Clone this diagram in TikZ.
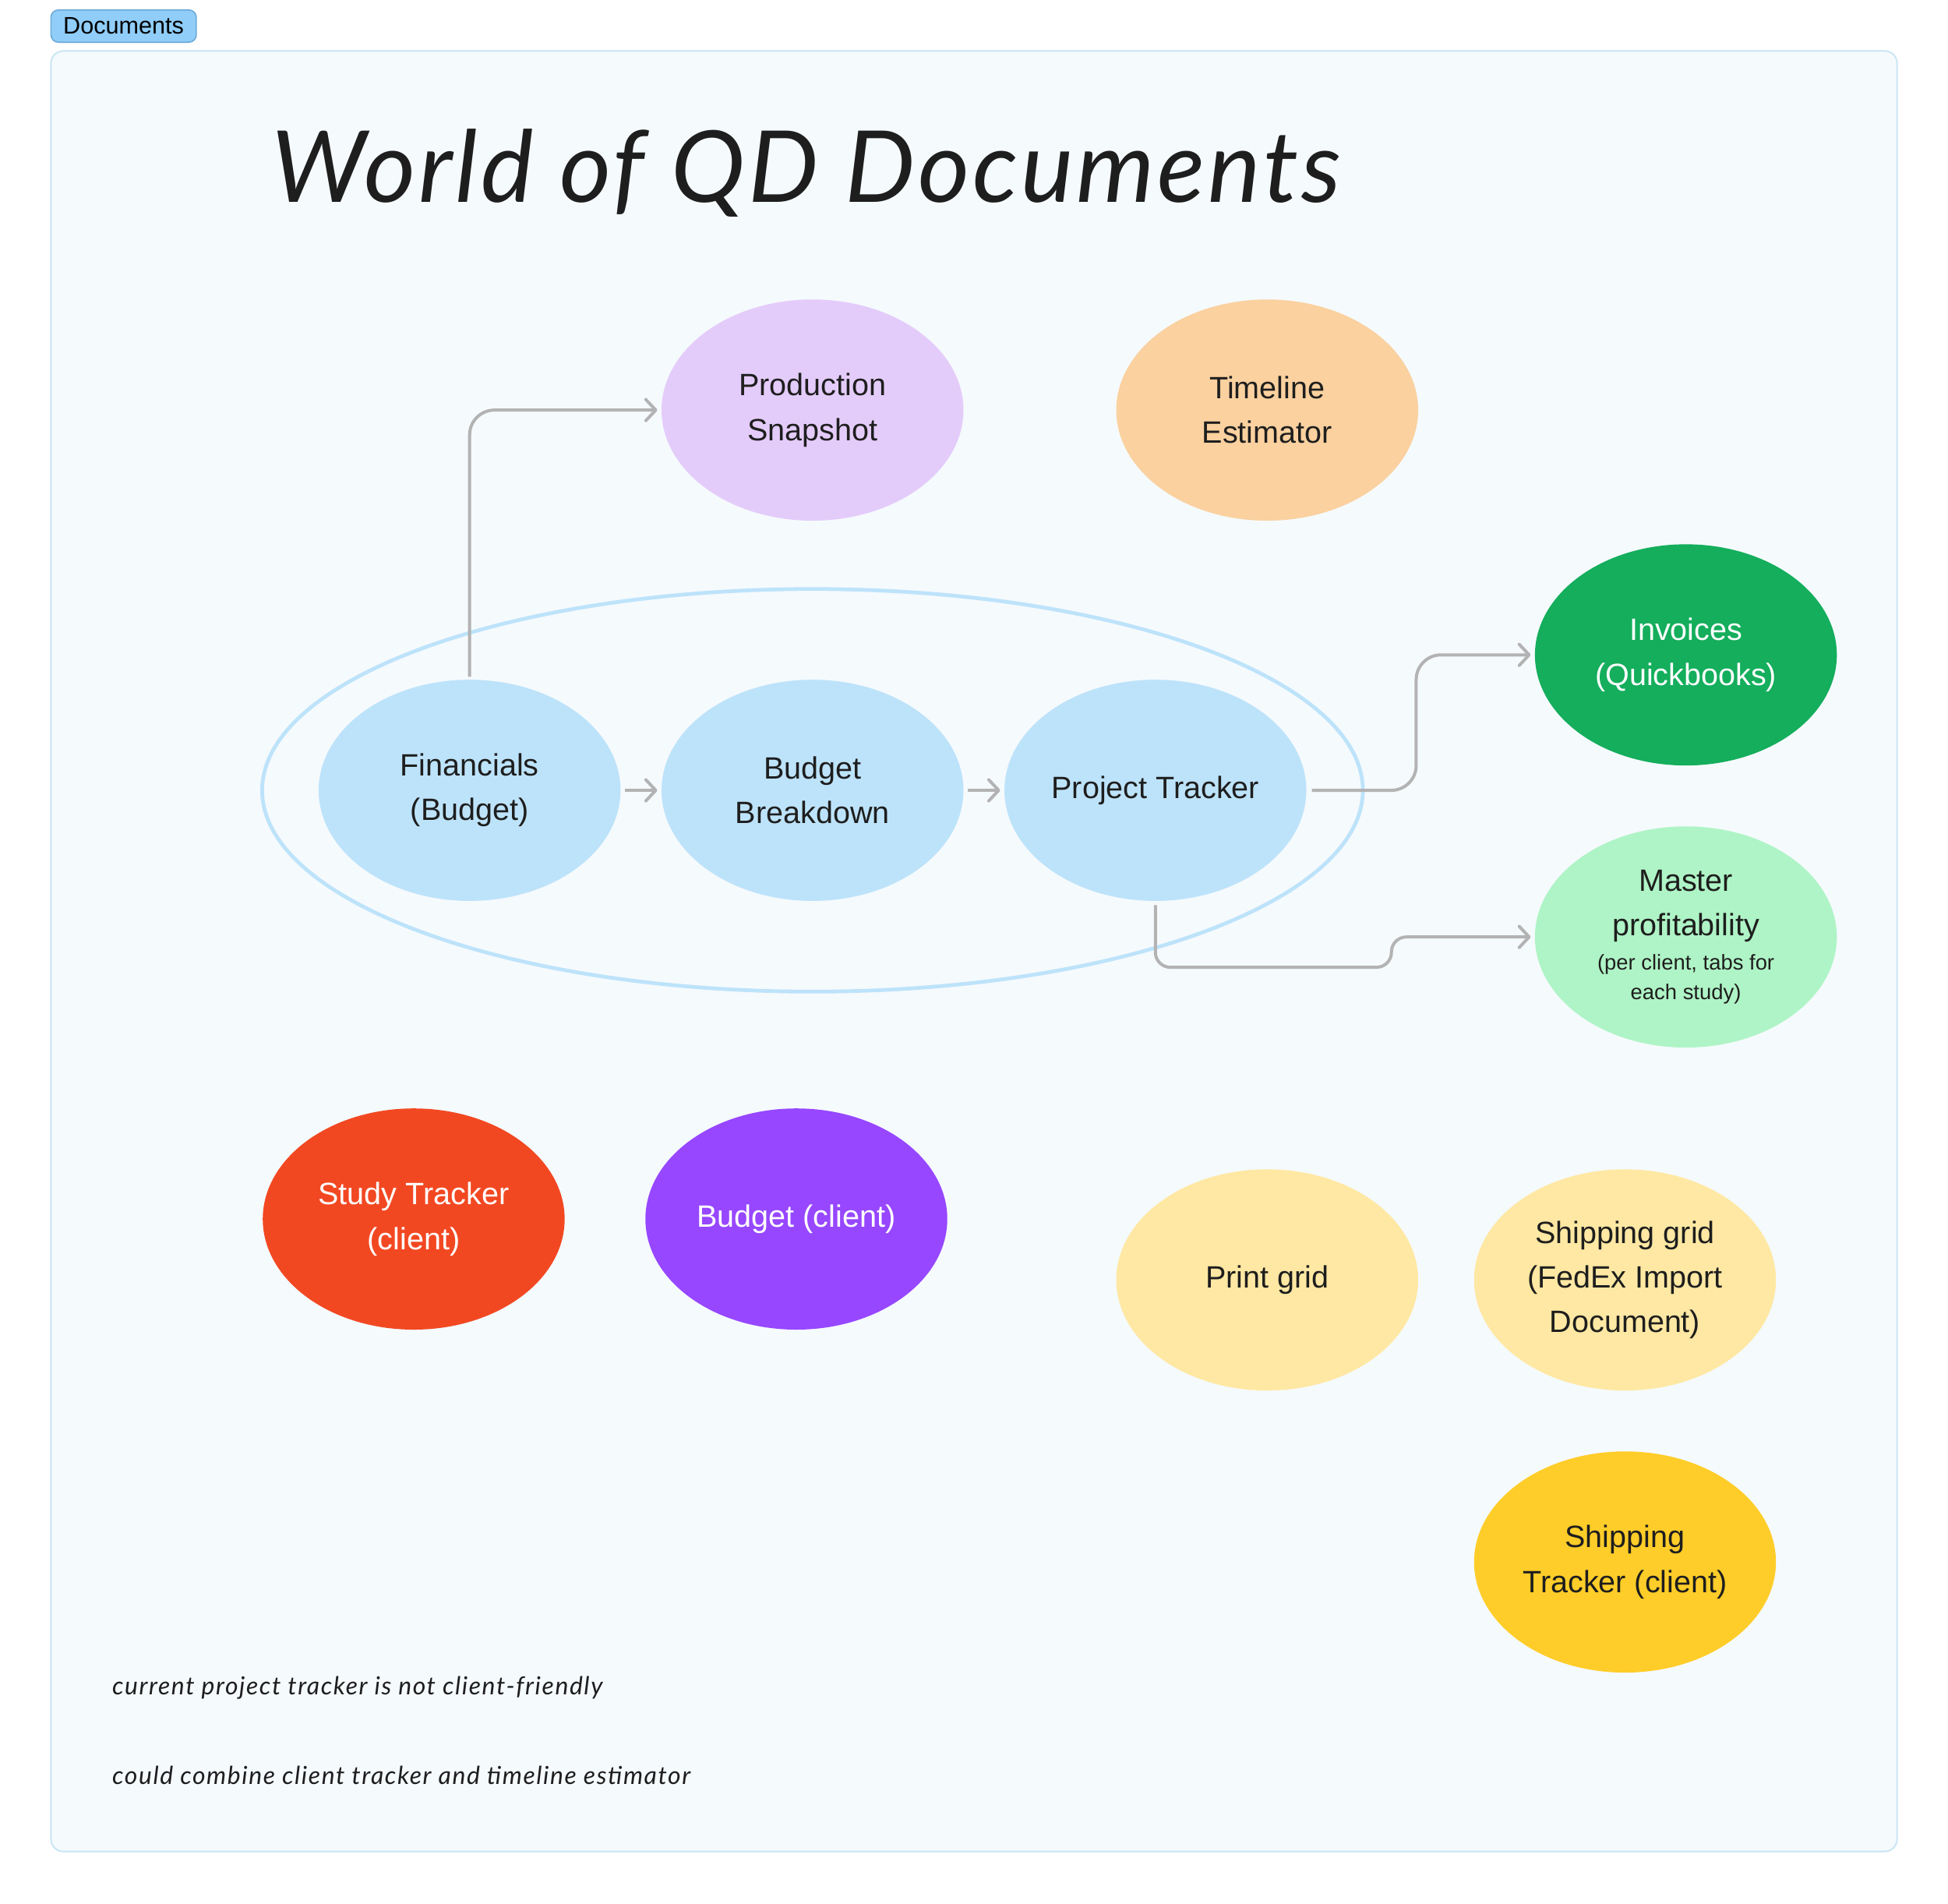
\documentclass[tikz,border=0pt]{standalone}
\usepackage{fontspec}
\setmainfont{Liberation Sans}
\newfontfamily\handfont{Lato}
\newfontfamily\handwide{Lato}[LetterSpace=5]
\newfontfamily\titlewide{Lato}[LetterSpace=3]
\usetikzlibrary{shapes.geometric,arrows.meta,calc}
\definecolor{pagebg}{HTML}{F5FAFD}
\definecolor{frameline}{HTML}{C9E5F4}
\definecolor{tagfill}{HTML}{90CDF9}
\definecolor{tagline}{HTML}{6EAAD8}
\definecolor{txt}{HTML}{1E1E1E}
\definecolor{conncol}{HTML}{B3B3B3}
\definecolor{cblue}{HTML}{BDE3FA}
\definecolor{clav}{HTML}{E4CCFA}
\definecolor{cpeach}{HTML}{FAD19F}
\definecolor{cgreen}{HTML}{14AE5C}
\definecolor{cmint}{HTML}{AFF4C6}
\definecolor{cred}{HTML}{F24822}
\definecolor{cpurple}{HTML}{9747FF}
\definecolor{cpaleyellow}{HTML}{FFE8A3}
\definecolor{cyellow}{HTML}{FFCD29}
\begin{document}
\begin{tikzpicture}[x=0.5pt,y=-0.5pt,
  doc/.style={ellipse, minimum width=121.5pt, minimum height=89pt, inner sep=0pt,
    align=center, font=\fontsize{12.4}{18}\selectfont, text=txt},
  conn/.style={draw=conncol, line width=1.25pt, rounded corners=10pt,
    -{Straight Barb[length=4pt,width=8.5pt,line width=1.25pt,round]}},
  note/.style={anchor=base west, inner sep=0pt, font=\handwide\itshape\fontsize{10}{10}\selectfont, text=txt}
]
\useasboundingbox (0,0) rectangle (1568,1532);
\fill[white] (0,0) rectangle (1568,1532);
% frame
\draw[fill=pagebg, draw=frameline, line width=0.6pt, rounded corners=5pt] (41,41) rectangle (1527,1490);
% tag
\node[draw=tagline, fill=tagfill, line width=0.5pt, rounded corners=3pt, minimum width=58.5pt,
  minimum height=13pt, inner sep=0pt, font=\fontsize{9.6}{10}\selectfont, text=black] (tag) at (99.5,21) {Documents};
% title
\node[anchor=base west, inner sep=0pt, font=\titlewide\itshape\fontsize{40}{40}\selectfont, text=txt] (title) at (218,163) {World of QD Documents};
% group ellipse
\node[ellipse, draw=cblue, line width=1.5pt, minimum width=443pt, minimum height=162pt, inner sep=0pt] (group) at (654,636) {};
% documents
\node[doc, fill=clav] (prod) at (654,330) {Production\\Snapshot};
\node[doc, fill=cpeach] (time) at (1020,330) {Timeline\\Estimator};
\node[doc, fill=cgreen, text=white] (inv) at (1357,527) {Invoices\\(Quickbooks)};
\node[doc, fill=cblue] (fin) at (378,636) {Financials\\(Budget)};
\node[doc, fill=cblue] (bb) at (654,636) {Budget\\Breakdown};
\node[doc, fill=cblue] (pt) at (930,636) {Project Tracker};
\node[doc, fill=cmint] (master) at (1357,754) {Master\\profitability\\[-4.5pt]{\fontsize{8.6}{12}\selectfont (per client, tabs for}\\[-6pt]{\fontsize{8.6}{12}\selectfont each study)}};
\node[doc, fill=cred, text=white] (study) at (333,981) {Study Tracker\\(client)};
\node[doc, fill=cpurple, text=white] (bclient) at (641,981) {Budget (client)};
\node[doc, fill=cpaleyellow] (print) at (1020,1030) {Print grid};
\node[doc, fill=cpaleyellow] (ship) at (1308,1030) {Shipping grid\\(FedEx Import\\Document)};
\node[doc, fill=cyellow] (shipt) at (1308,1257) {Shipping\\Tracker (client)};
% connectors
\draw[conn, shorten <=1pt, shorten >=1.5pt] (fin.north) -- (fin.north |- prod.west) -- (prod.west);
\draw[conn, shorten <=1.5pt, shorten >=1.5pt] (fin.east) -- (bb.west);
\draw[conn, shorten <=1.5pt, shorten >=1.5pt] (bb.east) -- (pt.west);
\draw[conn, shorten <=2pt, shorten >=1.5pt] (pt.east) -- ++(88,0) |- (inv.west);
\draw[conn, rounded corners=6pt, shorten <=1.5pt, shorten >=1.5pt] (pt.south) -- ++(0,53) -| (1120,754) -- (master.west);
% notes
\node[note] (note1) at (90,1364) {current project tracker is not client-friendly};
\node[note] (note2) at (90,1436) {could combine client tracker and timeline estimator};
\end{tikzpicture}
\end{document}
